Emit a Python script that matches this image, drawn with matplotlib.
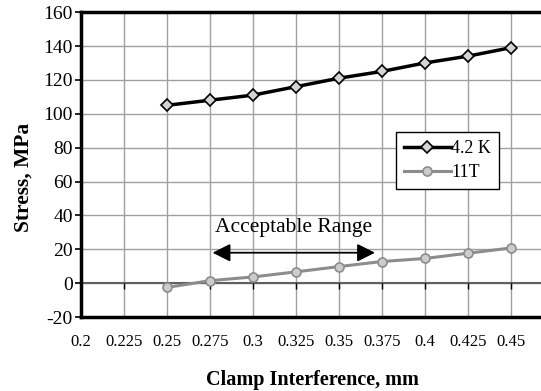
import matplotlib.pyplot as plt
import numpy as np

# datos
interferencia = [0.25, 0.275, 0.3, 0.325, 0.35, 0.375, 0.4, 0.425, 0.45]
esfuerzo_42k = [105, 108, 111, 116, 121, 125, 130, 134, 139]
esfuerzo_11t = [-2.5, 1.5, 3.7, 6.7, 9.8, 12.8, 14.6, 17.7, 20.8]
xticks = [0.2, 0.225, 0.25, 0.275, 0.3, 0.325, 0.35, 0.375, 0.4, 0.425, 0.45]
xtick_labels = ['0.2', '0.225', '0.25', '0.275', '0.3', '0.325', '0.35', '0.375', '0.4', '0.425', '0.45']
yticks = [-20, 0, 20, 40, 60, 80, 100, 120, 140, 160]

plt.rcParams['font.family'] = 'Liberation Serif'
plt.rcParams['axes.unicode_minus'] = False

fig = plt.figure(figsize=(5.41, 3.91), dpi=100)
ax = fig.add_axes([0.1497, 0.189, 0.874, 0.780])

ax.set_xlim(0.2, 0.475)
ax.set_ylim(-20, 160)
ax.set_xticks(xticks)
ax.set_xticklabels(xtick_labels)
ax.set_yticks(yticks)
ax.grid(True, color='#a0a0a0', linewidth=1.0)
ax.set_axisbelow(True)

# linea del cero con marcas hacia abajo
ax.axhline(0, color='#606060', linewidth=1.5, zorder=1)
ax.plot(xticks[1:], [0] * len(xticks[1:]), linestyle='none', marker=3,
        markersize=4, color='black', zorder=1)

ax.plot(interferencia, esfuerzo_42k, color='black', linewidth=2.5, marker='D',
        markersize=6, markerfacecolor='#d4d4d4', markeredgecolor='black',
        markeredgewidth=1.2, label='4.2 K', zorder=3)
ax.plot(interferencia, esfuerzo_11t, color='#8c8c8c', linewidth=2.2, marker='o',
        markersize=6.5, markerfacecolor='#cccccc', markeredgecolor='#8c8c8c',
        markeredgewidth=1.2, label='11T', zorder=3)

ax.annotate('', xy=(0.2765, 18), xytext=(0.371, 18),
            arrowprops=dict(arrowstyle='<|-|>', color='black', lw=1.3,
                            mutation_scale=27, shrinkA=0, shrinkB=0))
ax.text(0.3235, 33, 'Acceptable Range', ha='center', va='center', fontsize=15.5)

for lado in ['left', 'top', 'bottom']:
    ax.spines[lado].set_linewidth(2.5)
ax.spines['right'].set_visible(False)

ax.tick_params(axis='y', labelsize=14, length=4, width=1.2, pad=2)
ax.tick_params(axis='x', labelsize=12, length=0, pad=12)

ax.set_ylabel('Stress, MPa', fontsize=15.5, fontweight='bold')
ax.yaxis.set_label_coords(-0.101, 0.459)
ax.set_xlabel('Clamp Interference, mm', fontsize=14.5, fontweight='bold', va='center')
ax.xaxis.set_label_coords(0.489, -0.207)

leg = ax.legend(loc='upper left', bbox_to_anchor=(0.666, 0.607), fontsize=13,
                frameon=True, fancybox=False, edgecolor='black', framealpha=1,
                handlelength=2.6, handletextpad=0.0, borderpad=0.45,
                borderaxespad=0, labelspacing=0.4)
leg.get_frame().set_linewidth(1.0)

fig.savefig('out.png', dpi=100)
